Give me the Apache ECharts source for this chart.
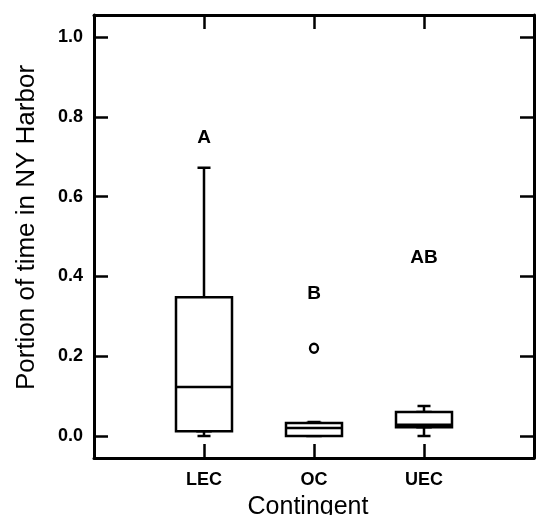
<!DOCTYPE html>
<html>
<head>
<meta charset="utf-8">
<script src="https://cdn.jsdelivr.net/npm/echarts@6/dist/echarts.min.js"></script>
<style>
  html, body { margin: 0; padding: 0; background: #fff; }
  #chart { width: 536px; height: 515px; }
</style>
</head>
<body>
<div id="chart"></div>
<script>
// contingents and box statistics
var categories = ['LEC', 'OC', 'UEC'];
var mins    = [0.000, 0.000, 0.000];
var q1s     = [0.012, 0.000, 0.022];
var medians = [0.123, 0.020, 0.028];
var q3s     = [0.348, 0.033, 0.060];
var maxs    = [0.672, 0.035, 0.075];
var outliers = [['OC', 0.22]];
var letters  = ['A', 'B', 'AB'];
var letterY  = [0.75, 0.36, 0.45];
var yTicks   = [0.0, 0.2, 0.4, 0.6, 0.8, 1.0];

var chartDom = document.getElementById('chart');
var myChart = echarts.init(chartDom);

// empty slots at each end so the boxes sit at 1/4, 2/4, 3/4 of the frame
var axisCats = [''].concat(categories).concat(['']);
var blank = ['-', '-', '-', '-', '-'];
var whiskerData = [blank], boxData = [blank], letterData = [];
for (var i = 0; i < categories.length; i++) {
    whiskerData.push([mins[i], q1s[i], medians[i], q3s[i], maxs[i]]);
    boxData.push([q1s[i], q1s[i], medians[i], q3s[i], q3s[i]]);
    letterData.push([categories[i], letterY[i]]);
}
whiskerData.push(blank);
boxData.push(blank);

var lineStyle = { color: '#000', width: 3 };
var tickStyle = { show: true, inside: true, length: 14, lineStyle: { color: '#000', width: 2.5 } };

var xBase = {
    type: 'category',
    data: axisCats,
    boundaryGap: false,
    axisLine: { show: true, onZero: false, lineStyle: lineStyle },
    axisTick: tickStyle,
    splitLine: { show: false }
};
var yBase = {
    type: 'value',
    min: -0.055,
    max: 1.055,
    axisLine: { show: true, onZero: false, lineStyle: lineStyle },
    axisTick: tickStyle,
    splitLine: { show: false }
};

option = {
    animation: false,
    backgroundColor: '#fff',
    grid: { left: 94, right: 2, top: 15, bottom: 57, containLabel: false, outerBoundsMode: 'none' },
    xAxis: [
        Object.assign({}, xBase, {
            position: 'bottom',
            axisLabel: {
                color: '#000', fontFamily: 'Liberation Sans', fontWeight: 'bold',
                fontSize: 18, margin: 13
            },
            name: 'Contingent',
            nameLocation: 'middle',
            nameGap: 37,
            nameTextStyle: {
                color: '#000', fontFamily: 'Liberation Sans', fontSize: 25,
                padding: [0, 12, 0, 0]
            }
        }),
        Object.assign({}, xBase, { position: 'top', axisLabel: { show: false } })
    ],
    yAxis: [
        Object.assign({}, yBase, {
            position: 'left',
            axisLabel: {
                color: '#000', fontFamily: 'Liberation Sans', fontWeight: 'bold',
                fontSize: 18, margin: 11, showMinLabel: false, showMaxLabel: false,
                formatter: function (v) {
                    for (var k = 0; k < yTicks.length; k++) {
                        if (Math.abs(v - yTicks[k]) < 1e-6) return yTicks[k].toFixed(1);
                    }
                    return '';
                }
            },
            name: 'Portion of time in NY Harbor',
            nameLocation: 'middle',
            nameGap: 54,
            nameTextStyle: {
                color: '#000', fontFamily: 'Liberation Sans', fontSize: 26,
                padding: [0, 0, 0, 18]
            }
        }),
        Object.assign({}, yBase, { position: 'right', axisLabel: { show: false } })
    ],
    series: [{
        // narrow boxplot on the twin axes: only its whiskers and short caps stay visible
        name: 'whiskers',
        type: 'boxplot',
        xAxisIndex: 1,
        yAxisIndex: 1,
        boxWidth: [13, 13],
        z: 2,
        itemStyle: { color: '#fff', borderColor: '#000', borderWidth: 2.5 },
        emphasis: { disabled: true },
        data: whiskerData
    }, {
        name: 'boxes',
        type: 'boxplot',
        boxWidth: [56, 56],
        z: 3,
        itemStyle: { color: '#fff', borderColor: '#000', borderWidth: 2.5 },
        emphasis: { disabled: true },
        data: boxData
    }, {
        name: 'outliers',
        type: 'scatter',
        symbol: 'circle',
        symbolSize: [8, 9],
        z: 4,
        itemStyle: { color: '#fff', borderColor: '#000', borderWidth: 2.5, opacity: 1 },
        emphasis: { disabled: true },
        data: outliers
    }, {
        name: 'letters',
        type: 'scatter',
        symbolSize: 0,
        z: 4,
        itemStyle: { opacity: 1 },
        label: {
            show: true,
            position: 'inside',
            offset: [0, 1],
            color: '#000',
            fontFamily: 'Liberation Sans',
            fontWeight: 'bold',
            fontSize: 19,
            formatter: function (p) { return letters[p.dataIndex]; }
        },
        emphasis: { disabled: true },
        data: letterData
    }]
};
myChart.setOption(option);
</script>
</body>
</html>
